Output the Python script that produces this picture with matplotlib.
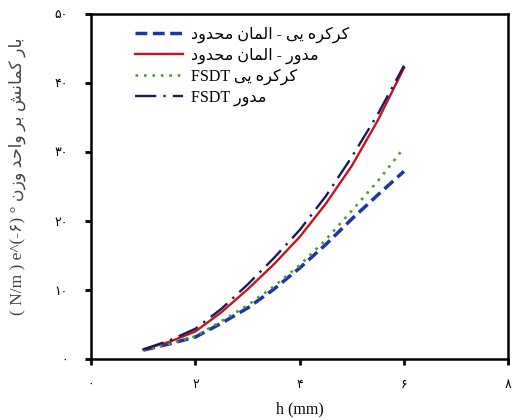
import matplotlib
matplotlib.use("Agg")
import matplotlib.pyplot as plt

# h (mm) and buckling load per unit weight for each model
h = [1.0, 1.5, 2.0, 2.5, 3.0, 3.5, 4.0, 4.5, 5.0, 5.5, 6.0]
fem_corrugated = [1.3, 2.2, 3.2, 5.2, 7.4, 10.1, 13.2, 16.6, 20.3, 23.8, 27.2]
fem_circular = [1.4, 2.5, 4.0, 6.8, 10.1, 13.7, 17.7, 22.5, 28.0, 34.6, 42.2]
fsdt_corrugated = [1.3, 2.2, 3.3, 5.5, 7.8, 10.5, 13.6, 17.3, 21.5, 25.8, 30.6]
fsdt_circular = [1.4, 2.7, 4.4, 7.3, 10.8, 14.6, 18.7, 23.6, 29.3, 35.5, 42.5]

xticks = [0, 2, 4, 6, 8]
yticks = [0, 10, 20, 30, 40, 50]

# contextual forms: isolated, final, initial, medial
FORMS = {
    "\u0627": ("\uFE8D", "\uFE8E", None, None),
    "\u0628": ("\uFE8F", "\uFE90", "\uFE91", "\uFE92"),
    "\u062A": ("\uFE95", "\uFE96", "\uFE97", "\uFE98"),
    "\u062D": ("\uFEA1", "\uFEA2", "\uFEA3", "\uFEA4"),
    "\u062F": ("\uFEA9", "\uFEAA", None, None),
    "\u0631": ("\uFEAD", "\uFEAE", None, None),
    "\u0632": ("\uFEAF", "\uFEB0", None, None),
    "\u0634": ("\uFEB5", "\uFEB6", "\uFEB7", "\uFEB8"),
    "\u0644": ("\uFEDD", "\uFEDE", "\uFEDF", "\uFEE0"),
    "\u0645": ("\uFEE1", "\uFEE2", "\uFEE3", "\uFEE4"),
    "\u0646": ("\uFEE5", "\uFEE6", "\uFEE7", "\uFEE8"),
    "\u0647": ("\uFEE9", "\uFEEA", "\uFEEB", "\uFEEC"),
    "\u0648": ("\uFEED", "\uFEEE", None, None),
    "\u06A9": ("\uFB8E", "\uFB8F", "\uFB90", "\uFB91"),
    "\u06CC": ("\uFBFC", "\uFBFD", "\uFBFE", "\uFBFF"),
}


def rtl(s):
    out = []
    for i, c in enumerate(s):
        if c not in FORMS:
            out.append(c)
            continue
        prev = s[i - 1] if i > 0 else ""
        nxt = s[i + 1] if i + 1 < len(s) else ""
        join_prev = prev in FORMS and FORMS[prev][2] is not None
        join_next = nxt in FORMS and FORMS[c][2] is not None
        iso, fin, ini, med = FORMS[c]
        if join_prev and join_next:
            out.append(med)
        elif join_prev:
            out.append(fin)
        elif join_next:
            out.append(ini)
        else:
            out.append(iso)
    return "".join(reversed(out))


def fa_digits(n):
    return "".join(chr(0x06F0 + int(d)) for d in str(n))


plt.rcParams["font.family"] = ["Liberation Serif", "DejaVu Sans"]

fig = plt.figure(figsize=(5.15, 4.2), dpi=100)
ax = fig.add_axes([0.177, 0.145, 0.81, 0.822])

ax.plot(h, fem_corrugated, color="#1c35a8", lw=2.5, dashes=(3.4, 1.6),
        label=rtl("کرکره یی - المان محدود"))
ax.plot(h, fem_circular, color="#c41420", lw=1.7,
        label=rtl("مدور - المان محدود"))
ax.plot(h, fsdt_corrugated, color="#4d9e25", lw=1.9, ls=(0, (1, 2.2)),
        label="FSDT " + rtl("کرکره یی"))
ax.plot(h, fsdt_circular, color="#1a1a5c", lw=1.7, ls=(0, (9, 3, 1, 3)),
        label="FSDT " + rtl("مدور"))

ax.set_xlim(0, 8)
ax.set_ylim(0, 50)
ax.set_xticks(xticks)
ax.set_yticks(yticks)
ax.set_xticklabels([fa_digits(v) for v in xticks], fontsize=9)
ax.set_yticklabels([fa_digits(v) for v in yticks], fontsize=9)
ax.tick_params(axis="x", direction="out", length=4, width=2, pad=10)
ax.tick_params(axis="y", direction="out", length=4, width=2, pad=13)

for sp in ax.spines.values():
    sp.set_linewidth(1.8)

ax.set_xlabel("h (mm)", fontsize=11.5, labelpad=8)
ax.set_ylabel("( N/m ) e^(-۶) ° " + rtl("بار کمانش بر واحد وزن"),
              fontsize=12.5, color="#444444")
ax.yaxis.set_label_coords(-0.155, 0.53)

ax.legend(loc="upper left", bbox_to_anchor=(0.07, 1.005), frameon=False,
          fontsize=11.5, handlelength=3.0, handletextpad=0.5,
          labelspacing=0.3)

fig.savefig("out.png", dpi=100)
